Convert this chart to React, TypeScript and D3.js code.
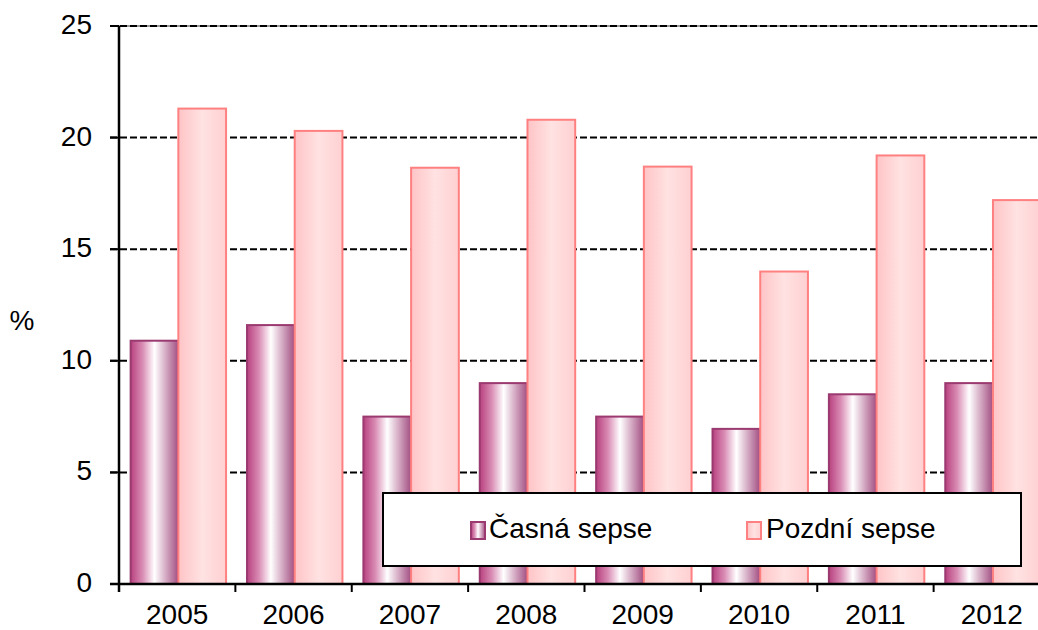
import React from "react";
import * as d3 from "d3";

const years = ["2005", "2006", "2007", "2008", "2009", "2010", "2011", "2012"];
const casna = [10.9, 11.6, 7.5, 9.0, 7.5, 6.95, 8.5, 9.0];
const pozdni = [21.3, 20.3, 18.65, 20.8, 18.7, 14.0, 19.2, 17.2];
const seriesNames = ["Časná sepse", "Pozdní sepse"];
const yTicks = [0, 5, 10, 15, 20, 25];

const W = 1038;
const H = 630;
const left = 119;
const right = 1050;
const top = 26;
const bottom = 584;
const font = "Arial, 'Liberation Sans', sans-serif";
const fs = 28;

export default function App() {
  const x0 = d3.scaleBand<string>().domain(years).range([left, right]).padding(0);
  const bw = x0.bandwidth();
  const x1 = d3
    .scaleBand<string>()
    .domain(seriesNames)
    .range([bw * 0.1, bw * 0.92])
    .padding(0);
  const y = d3.scaleLinear().domain([0, 25]).range([bottom, top]);
  const series = [casna, pozdni];
  const fills = ["url(#gCasna)", "url(#gPozdni)"];
  const strokes = ["#9b3a70", "#ff8080"];

  return (
    <svg
      width={W}
      height={H}
      style={{ position: "absolute", left: 0, top: 0, background: "#fff" }}
    >
      <defs>
        <linearGradient id="gCasna" x1="0" x2="1" y1="0" y2="0">
          <stop offset="0" stopColor="#b8417f" />
          <stop offset="0.25" stopColor="#d98cb4" />
          <stop offset="0.5" stopColor="#ffffff" />
          <stop offset="0.75" stopColor="#d2a6c0" />
          <stop offset="1" stopColor="#a24f82" />
        </linearGradient>
        <linearGradient id="gPozdni" x1="0" x2="1" y1="0" y2="0">
          <stop offset="0" stopColor="#ffc4c6" />
          <stop offset="0.5" stopColor="#ffe2e2" />
          <stop offset="1" stopColor="#ffd0d2" />
        </linearGradient>
      </defs>

      {/* gridlines */}
      <line x1={left - 9} x2={right} y1={y(25)} y2={y(25)} stroke="#999" strokeWidth={2} />
      {yTicks.map((t) => (
        <line
          key={"g" + t}
          x1={left - 9}
          x2={right}
          y1={y(t)}
          y2={y(t)}
          stroke="#000"
          strokeWidth={2}
          strokeDasharray="7,3"
        />
      ))}

      {/* bars */}
      {years.map((yr, i) => (
        <g key={yr} transform={`translate(${x0(yr)},0)`}>
          {series.map((s, j) => (
            <rect
              key={j}
              x={x1(seriesNames[j])!}
              y={y(s[i])}
              width={x1.bandwidth()}
              height={bottom - y(s[i])}
              fill={fills[j]}
              stroke={strokes[j]}
              strokeWidth={2}
            />
          ))}
        </g>
      ))}

      {/* axes */}
      <line x1={left} x2={left} y1={top} y2={bottom + 8} stroke="#000" strokeWidth={2.5} />
      <line x1={left - 9} x2={right} y1={bottom} y2={bottom} stroke="#000" strokeWidth={2.5} />
      {yTicks.map((t) => (
        <g key={"t" + t}>
          <line x1={left - 9} x2={left} y1={y(t)} y2={y(t)} stroke="#000" strokeWidth={2} />
          <text
            x={92}
            y={y(t) + 8}
            textAnchor="end"
            fontFamily={font}
            fontSize={fs}
            fill="#000"
          >
            {t}
          </text>
        </g>
      ))}
      {years.map((yr) => (
        <g key={"x" + yr}>
          <line
            x1={x0(yr)! + bw}
            x2={x0(yr)! + bw}
            y1={bottom}
            y2={bottom + 8}
            stroke="#000"
            strokeWidth={2}
          />
          <text
            x={x0(yr)! + bw / 2}
            y={624}
            textAnchor="middle"
            fontFamily={font}
            fontSize={fs}
            fill="#000"
          >
            {yr}
          </text>
        </g>
      ))}
      <text x={22} y={330} textAnchor="middle" fontFamily={font} fontSize={fs} fill="#000">
        %
      </text>

      {/* legend */}
      <rect x={383} y={493} width={638} height={73} fill="#fff" stroke="#000" strokeWidth={2} />
      <rect x={471} y={522} width={14} height={17} fill="url(#gCasna)" stroke={strokes[0]} strokeWidth={2} />
      <text x={489} y={538} fontFamily={font} fontSize={fs} fill="#000">
        {seriesNames[0]}
      </text>
      <rect x={747} y={522} width={14} height={17} fill="url(#gPozdni)" stroke={strokes[1]} strokeWidth={2} />
      <text x={766} y={538} fontFamily={font} fontSize={fs} fill="#000">
        {seriesNames[1]}
      </text>
    </svg>
  );
}
